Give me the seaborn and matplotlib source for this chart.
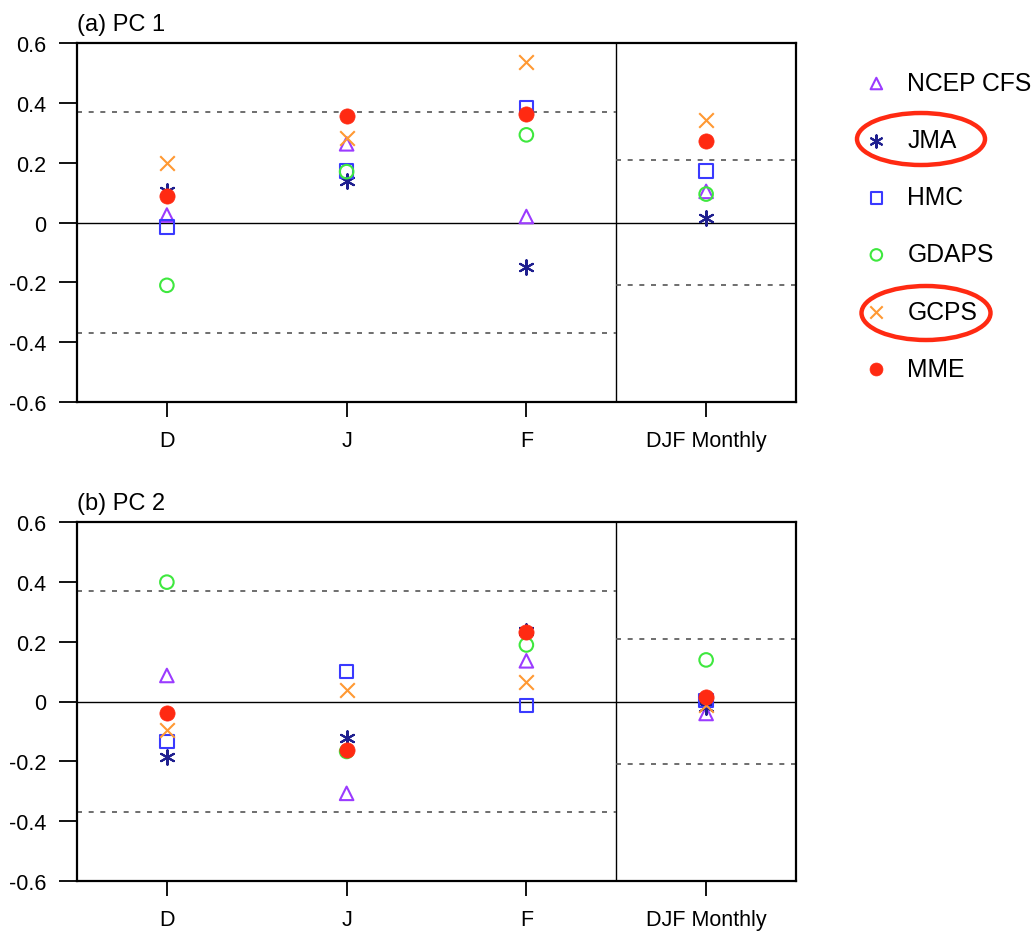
import numpy as np
import pandas as pd
import matplotlib
matplotlib.use("Agg")
from matplotlib import pyplot as plt
from matplotlib.patches import Ellipse
import seaborn as sns

# categories on the x axis
periods = ["D", "J", "F", "DJF Monthly"]
models = ["NCEP CFS", "JMA", "HMC", "GDAPS", "GCPS", "MME"]

# PC 1 correlations, one list per model (D, J, F, DJF Monthly)
pc1_ncep = [0.025, 0.263, 0.02, 0.104]
pc1_jma = [0.104, 0.14, -0.15, 0.015]
pc1_hmc = [-0.015, 0.173, 0.385, 0.173]
pc1_gdaps = [-0.21, 0.17, 0.293, 0.095]
pc1_gcps = [0.20, 0.284, 0.536, 0.343]
pc1_mme = [0.09, 0.355, 0.363, 0.274]

# PC 2 correlations
pc2_ncep = [0.087, -0.307, 0.136, -0.04]
pc2_jma = [-0.187, -0.123, 0.236, -0.02]
pc2_hmc = [-0.133, 0.101, -0.013, 0.003]
pc2_gdaps = [0.399, -0.167, 0.189, 0.139]
pc2_gcps = [-0.095, 0.037, 0.065, -0.013]
pc2_mme = [-0.040, -0.162, 0.232, 0.015]

# significance levels (monthly / seasonal)
sig_month = 0.37
sig_season = 0.21

yticks = [-0.6, -0.4, -0.2, 0, 0.2, 0.4, 0.6]
ytick_labels = ["-0.6", "-0.4", "-0.2", "0", "0.2", "0.4", "0.6"]

pc1 = [pc1_ncep, pc1_jma, pc1_hmc, pc1_gdaps, pc1_gcps, pc1_mme]
pc2 = [pc2_ncep, pc2_jma, pc2_hmc, pc2_gdaps, pc2_gcps, pc2_mme]

colors = {"NCEP CFS": "#9b3bff", "JMA": "#1f1f8f", "HMC": "#3a3aff",
          "GDAPS": "#3ee83e", "GCPS": "#ff9933", "MME": "#ff2a12"}
markers = {"NCEP CFS": "^", "JMA": (6, 2, 0), "HMC": "s",
           "GDAPS": "o", "GCPS": "x", "MME": "o"}
hollow = ["NCEP CFS", "HMC", "GDAPS"]


def make_frame(vals):
    rows = []
    for m, v in zip(models, vals):
        for i, p in enumerate(periods):
            rows.append((m, i, v[i]))
    return pd.DataFrame(rows, columns=["model", "pos", "value"])


sns.set_style("white")
plt.rcParams['font.family'] = ['Liberation Sans', 'DejaVu Sans']
plt.rcParams['text.color'] = 'black'
plt.rcParams['xtick.color'] = 'black'
plt.rcParams['ytick.color'] = 'black'

fig = plt.figure(figsize=(10.36, 9.37), dpi=100)
ax1 = fig.add_axes([77/1036, 1-403/937, 719/1036, 359/937])
ax2 = fig.add_axes([77/1036, 1-882/937, 719/1036, 359/937])


def draw(ax, df, title):
    ax.axhline(0, color="black", lw=1.0, zorder=1)
    ax.axvline(2.5, color="black", lw=1.0, zorder=1)
    ax.plot([-0.5, 2.5], [sig_month, sig_month], color="#555555", lw=1.2, ls=(0, (3, 4)), zorder=1)
    ax.plot([-0.5, 2.5], [-sig_month, -sig_month], color="#555555", lw=1.2, ls=(0, (3, 4)), zorder=1)
    ax.plot([2.5, 3.5], [sig_season, sig_season], color="#555555", lw=1.2, ls=(0, (3, 4)), zorder=1)
    ax.plot([2.5, 3.5], [-sig_season, -sig_season], color="#555555", lw=1.2, ls=(0, (3, 4)), zorder=1)
    for m in models:
        sub = df[df["model"] == m]
        c = colors[m]
        if m in hollow:
            sns.scatterplot(data=sub, x="pos", y="value", ax=ax, marker=markers[m], s=95,
                            facecolor="none", edgecolor=c, linewidth=1.5, label=m, zorder=3)
        elif m == "MME":
            sns.scatterplot(data=sub, x="pos", y="value", ax=ax, marker="o", s=120,
                            color=c, edgecolor=c, linewidth=0.5, label=m, zorder=3)
        else:
            sns.scatterplot(data=sub, x="pos", y="value", ax=ax, marker=markers[m], s=110,
                            color=c, linewidth=1.5, label=m, zorder=3)
    ax.set_xlim(-0.5, 3.5)
    ax.set_ylim(-0.6, 0.6)
    ax.set_xticks(range(len(periods)))
    ax.set_xticklabels(periods)
    ax.set_yticks(yticks)
    ax.set_yticklabels(ytick_labels)
    ax.set_xlabel("")
    ax.set_ylabel("")
    ax.tick_params(axis="y", direction="out", length=13, width=1.3, pad=9, labelsize=15.5, left=True)
    ax.tick_params(axis="x", direction="out", length=11, width=1.3, pad=9, labelsize=15.5, bottom=True)
    for sp in ax.spines.values():
        sp.set_linewidth(1.6)
        sp.set_color("black")
    ax.text(0.0, 1.035, title, transform=ax.transAxes, ha="left", va="baseline", fontsize=17)
    ax.get_legend().remove()


draw(ax1, make_frame(pc1), "(a) PC 1")
draw(ax2, make_frame(pc2), "(b) PC 2")

handles, labels = ax1.get_legend_handles_labels()
fig.legend(handles, labels, loc="upper left", bbox_to_anchor=(864/1036, 1-72/937),
           frameon=False, fontsize=17.8, handlelength=1.0, handletextpad=0.75,
           labelspacing=1.34, borderpad=0, borderaxespad=0, markerscale=0.85)

for cx, cy, w, h in [(921, 140, 128, 52), (926, 314, 129, 54)]:
    fig.add_artist(Ellipse((cx/1036, 1-cy/937), w/1036, h/937, transform=fig.transFigure,
                           fill=False, edgecolor="#ff2a12", linewidth=3.2))

fig.savefig("out.png", dpi=100)
